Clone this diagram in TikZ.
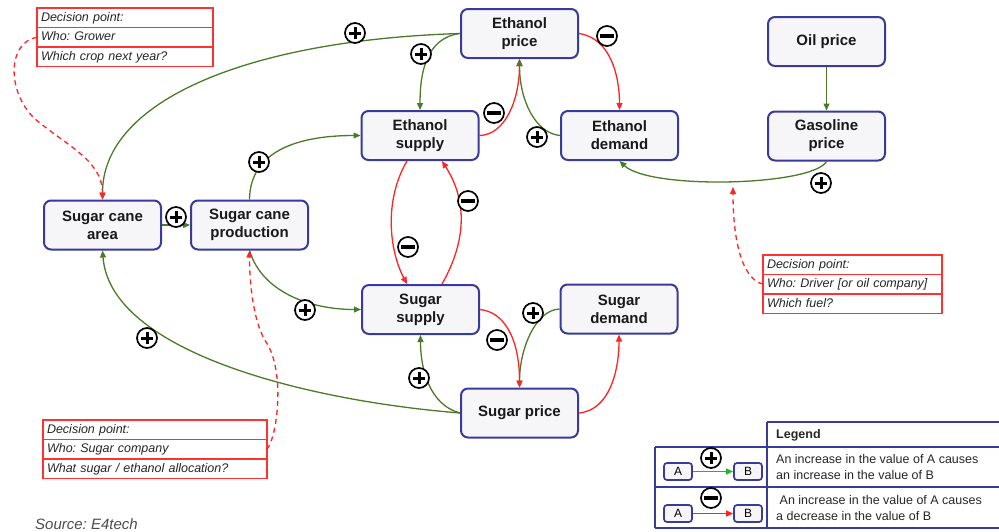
\documentclass[tikz,border=0pt]{standalone}
\usepackage{fontspec}
\setmainfont{Liberation Sans}
\usetikzlibrary{arrows.meta}
\definecolor{nblue}{RGB}{58,58,155}
\definecolor{nfill}{RGB}{246,246,248}
\definecolor{lgreen}{RGB}{77,122,40}
\definecolor{lred}{RGB}{255,35,35}
\definecolor{dred}{RGB}{255,50,50}
\definecolor{bgreen}{RGB}{40,180,40}
\frenchspacing
\begin{document}
\begin{tikzpicture}[x=1pt,y=-1pt,
  var/.style={draw=nblue, line width=2pt, fill=nfill, rounded corners=7pt,
    minimum width=117pt, minimum height=49pt, align=center, inner sep=2pt,
    font=\bfseries\fontsize{15}{18}\selectfont, text=black!90},
  tip/.style={-{Triangle[length=7pt,width=6pt]}},
  gedge/.style={draw=lgreen, line width=1.3pt, tip},
  redge/.style={draw=lred, line width=1.3pt, tip},
  ddash/.style={draw=lred, line width=1.3pt, dash pattern=on 5pt off 4pt, tip},
  sgn/.style={circle, draw=black, line width=1.7pt, fill=white, minimum size=20pt, inner sep=0pt},
  splus/.style={sgn, path picture={
    \draw[line width=3pt] ([xshift=-6pt]path picture bounding box.center) -- ([xshift=6pt]path picture bounding box.center);
    \draw[line width=3pt] ([yshift=-6pt]path picture bounding box.center) -- ([yshift=6pt]path picture bounding box.center);}},
  sminus/.style={sgn, path picture={
    \draw[line width=3.8pt] ([xshift=-7pt]path picture bounding box.center) -- ([xshift=7pt]path picture bounding box.center);}},
  dbox/.style={draw=dred, line width=1.2pt, fill=white, anchor=north west, outer sep=0pt,
    minimum height=19.5pt, text width=#1, inner xsep=4pt, inner ysep=0pt, align=left,
    text height=9pt, text depth=2.5pt,
    font=\itshape\fontsize{12.5}{14}\selectfont, text=black!85},
  lbox/.style={draw=nblue, line width=1.7pt, fill=nfill, rounded corners=3pt,
    minimum width=28pt, minimum height=17pt, inner sep=0pt, font=\fontsize{12}{14}\selectfont},
  ltext/.style={anchor=west, align=left, inner sep=0pt, font=\fontsize{12.5}{16}\selectfont, text=black!85},
]
\useasboundingbox (0,0) rectangle (999,531);

% variables
\node[var] (ep)  at (519.5,33.5) {Ethanol\\price};
\node[var] (es)  at (420,135.5) {Ethanol\\supply};
\node[var] (ed)  at (619.5,135.5) {Ethanol\\demand};
\node[var] (op)  at (826.5,41.5) {Oil price};
\node[var] (gp)  at (826.5,136) {Gasoline\\price};
\node[var] (sca) at (102.5,225) {Sugar cane\\area};
\node[var] (scp) at (249.5,225) {Sugar cane\\production};
\node[var] (ss)  at (420.5,309.5) {Sugar\\supply};
\node[var] (sd)  at (619,309) {Sugar\\demand};
\node[var] (sp)  at (519.5,413) {Sugar price};

% decision boxes
\node[dbox=168pt] (d1a) at (37,8) {Decision point:};
\node[dbox=168pt] (d1b) at (d1a.south west) {Who: Grower};
\node[dbox=168pt] (d1c) at (d1b.south west) {Which crop next year?};
\node[dbox=171pt] (d2a) at (763,255) {Decision point:};
\node[dbox=171pt] (d2b) at (d2a.south west) {Who: Driver [or oil company]};
\node[dbox=171pt] (d2c) at (d2b.south west) {Which fuel?};
\node[dbox=216pt] (d3a) at (43,420) {Decision point:};
\node[dbox=216pt] (d3b) at (d3a.south west) {Who: Sugar company};
\node[dbox=216pt] (d3c) at (d3b.south west) {What sugar / ethanol allocation?};

% connectors
\draw[gedge] (ep.west) .. controls (250,40) and (102.5,100) .. (sca.north);
\draw[gedge] (ep.west) .. controls (425,38) and (420,75) .. (es.north);
\draw[redge] (ep.east) .. controls (610,38) and (619.5,75) .. (ed.north);
\draw[redge] (es.east) .. controls (505,135) and (519.5,100) .. (ep.south);
\draw[gedge] (ed.west) .. controls (535,133) and (519.5,100) .. (ep.south);
\draw[gedge] (op) -- (gp);
\draw[gedge] (gp.south) .. controls (812,186) and (650,190) .. (ed.south);
\draw[gedge] (sca.east) -- (scp.west);
\draw[gedge] (scp.north) .. controls (250,150) and (300,135.5) .. (es.west);
\draw[gedge] (scp.south) .. controls (262,292) and (310,309.5) .. (ss.west);
\draw[redge] ([xshift=21.5pt]ss.north) .. controls (467,240) and (467,200) .. ([xshift=22pt]es.south);
\draw[redge] ([xshift=-13pt]es.south) .. controls (384,200) and (389,250) .. ([xshift=-13.5pt]ss.north);
\draw[gedge] (sd.west) .. controls (535,310) and (519.5,350) .. (sp.north);
\draw[redge] (ss.east) .. controls (505,312) and (519.5,340) .. (sp.north);
\draw[redge] (sp.east) .. controls (610,410) and (619,370) .. (sd.south);
\draw[gedge] (sp.west) .. controls (430,405) and (420.5,370) .. (ss.south);
\draw[gedge] (sp.west) .. controls (300,400) and (110,350) .. (sca.south);

% decision links
\draw[ddash] (d1b.west) .. controls (8,42) and (6,90) .. (34,118) .. controls (65,145) and (102.5,160) .. (sca.north);
\coordinate (gx) at (733,187);
\draw[ddash] (d2b.west) .. controls (740,278) and (733,235) .. (gx);
\draw[ddash] (d3b.east) .. controls (278,435) and (285,370) .. (266,342) .. controls (255,325) and (249.5,290) .. (scp.south);

% signs
\node[splus]  (s1)  at (355,33) {};
\node[splus]  (s2)  at (421,54) {};
\node[sminus] (s3)  at (607,36) {};
\node[sminus] (s4)  at (494,113) {};
\node[splus]  (s5)  at (537,137) {};
\node[splus]  (s6)  at (259,162) {};
\node[splus]  (s7)  at (176,217) {};
\node[splus]  (s8)  at (821,183) {};
\node[sminus] (s9)  at (468,201) {};
\node[sminus] (s10) at (408,247) {};
\node[splus]  (s11) at (305,310) {};
\node[splus]  (s12) at (147,338) {};
\node[sminus] (s13) at (497,340) {};
\node[splus]  (s14) at (533,313) {};
\node[splus]  (s15) at (419,378) {};

% legend
\draw[draw=nblue, line width=1.3pt] (767,422) -- (999,422)
  (655,447) -- (999,447) (655,487) -- (999,487) (655,528) -- (999,528)
  (655,447) -- (655,528) (767,422) -- (767,528);
\node[anchor=west, inner sep=0pt, font=\bfseries\fontsize{12.5}{15}\selectfont, text=black!85] (lg) at (776,435) {Legend};
\node[ltext] (lt1) at (776,467.5) {An increase in the value of A causes\\an increase in the value of B};
\node[ltext] (lt2) at (776,508) {\ An increase in the value of A causes\\a decrease in the value of B};
\node[lbox] (la1) at (678,471.5) {A};
\node[lbox] (lb1) at (748,471.5) {B};
\node[lbox] (la2) at (678,513.5) {A};
\node[lbox] (lb2) at (748,513.5) {B};
\draw[draw=bgreen, line width=1.3pt, tip] (la1) -- (lb1);
\draw[draw=lred, line width=1.3pt, tip] (la2) -- (lb2);
\node[splus]  (ls1) at (711,458) {};
\node[sminus] (ls2) at (711,498) {};

\node[anchor=base west, inner sep=0pt, font=\itshape\fontsize{15}{17}\selectfont, text=black!70] (src) at (35,529) {Source: E4tech};
\end{tikzpicture}
\end{document}
